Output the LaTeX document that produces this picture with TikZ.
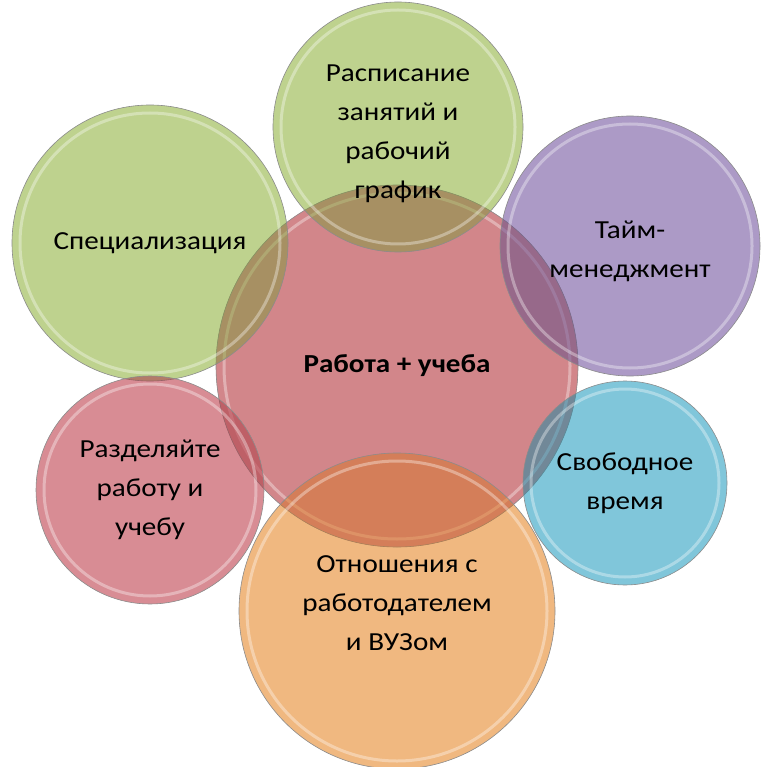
\documentclass[tikz,border=0pt]{standalone}
\usepackage{fontspec}
\setmainfont{Carlito}[FakeStretch=1.12]
\usetikzlibrary{calc}

\definecolor{workred}{RGB}{210,134,138}
\definecolor{leafgreen}{RGB}{190,210,142}
\definecolor{lilac}{RGB}{172,154,198}
\definecolor{rosered}{RGB}{216,140,148}
\definecolor{skyblue}{RGB}{128,198,218}
\definecolor{peach}{RGB}{240,184,128}

\newcommand{\toppad}[1]{\rule{0pt}{#1}}

\tikzset{
  bubble/.style={circle, draw=black!45, line width=0.6pt, fill=#1,
    preaction={fill=#1, fill opacity=1, blend mode=multiply},
    fill opacity=0.35, text opacity=1, inner sep=0pt, align=center,
    font=\fontsize{26}{39}\selectfont,
    path picture={
      \draw[white, line width=3pt, draw opacity=0.35, blend mode=normal]
        let \p1=(path picture bounding box.north),
            \p2=(path picture bounding box.center)
        in (\p2) circle ({\y1-\y2-8pt});
    }},
  hub/.style={bubble=#1, preaction={}, fill opacity=1},
}

\begin{document}
\begin{tikzpicture}[x=1pt, y=-1pt]
\useasboundingbox (0,0) rectangle (768,767);

\node[hub=workred, minimum size=362pt] (work) at (397,366) {\textbf{Работа + учеба}};

\node[bubble=leafgreen, minimum size=250pt] (schedule) at (398,127) {\toppad{30pt}Расписание\\занятий и\\рабочий\\график};
\node[bubble=leafgreen, minimum size=276pt] (special) at (150,243) {Специализация};
\node[bubble=lilac, minimum size=260pt] (timing) at (630,246) {\toppad{28pt}Тайм-\\менеджмент};
\node[bubble=rosered, minimum size=228pt] (split) at (150,490) {Разделяйте\\работу и\\учебу};
\node[bubble=skyblue, minimum size=204pt] (free) at (625,483) {Свободное\\время};
\node[bubble=peach, minimum size=316pt, text depth=15pt] (relations) at (397,611) {Отношения с\\работодателем\\и ВУЗом};
\end{tikzpicture}
\end{document}
